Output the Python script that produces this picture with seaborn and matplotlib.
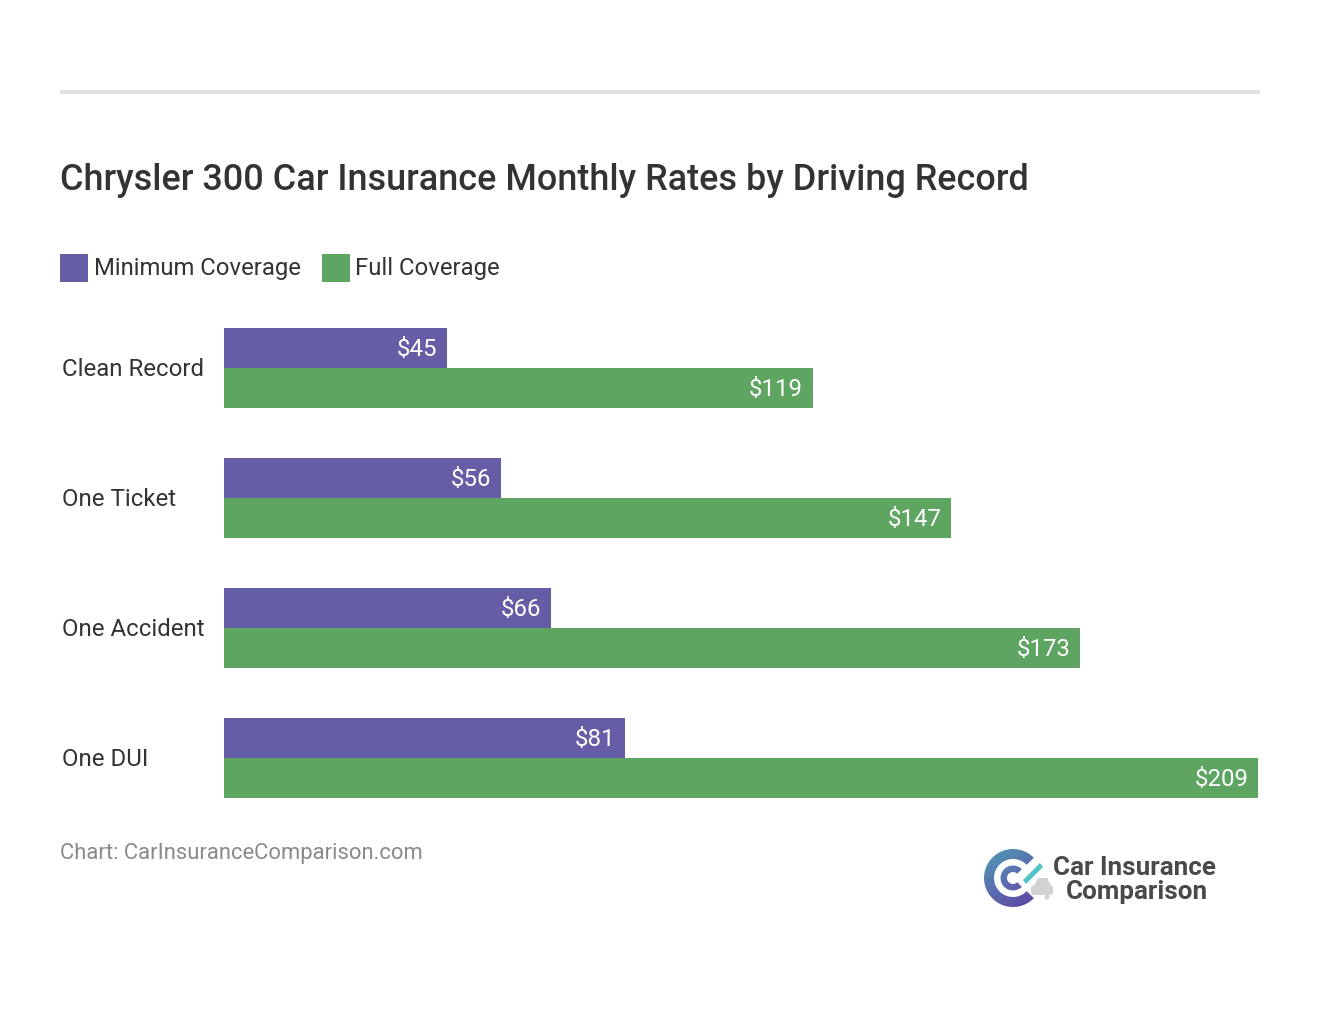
import matplotlib
matplotlib.use("Agg")
import matplotlib.pyplot as plt
import numpy as np
import pandas as pd
import seaborn as sns
from matplotlib.colors import LinearSegmentedColormap
from matplotlib.patches import Circle, FancyBboxPatch, Polygon, Rectangle, Wedge
from matplotlib.transforms import ScaledTranslation

records = ["Clean Record", "One Ticket", "One Accident", "One DUI"]
minimum_coverage = [45, 56, 66, 81]
full_coverage = [119, 147, 173, 209]
series_names = ["Minimum Coverage", "Full Coverage"]
series_colors = ["#655DA5", "#5EA562"]

W, H = 1320, 1010
PX = 72 / 100  # points per pixel at dpi 100

sns.set_theme(style="white")
plt.rcParams["font.family"] = ["Roboto", "DejaVu Sans"]

df = pd.DataFrame({
    "Record": records * 2,
    "Rate": minimum_coverage + full_coverage,
    "Coverage": [series_names[0]] * 4 + [series_names[1]] * 4,
})

fig = plt.figure(figsize=(W / 100, H / 100), dpi=100, facecolor="white")

# bars live in an axes placed on the pixel box of the reference
ax = fig.add_axes([224 / W, 1 - 823 / H, 1034 / W, 520 / H])
sns.barplot(data=df, y="Record", x="Rate", hue="Coverage", palette=series_colors,
            width=80 / 130, gap=0, saturation=1, legend=False, linewidth=0, ax=ax)
ax.set_xlim(0, 209)
ax.set_ylim(3.5, -0.5)
ax.set_xlabel("")
ax.set_ylabel("")
ax.set_xticks([])
sns.despine(ax=ax, left=True, bottom=True)
ax.tick_params(axis="y", length=0, pad=162 * PX, labelsize=24 * PX, labelcolor="#333333")
for label in ax.get_yticklabels():
    label.set_ha("left")
    label.set_transform(label.get_transform() + ScaledTranslation(0, 0.01, fig.dpi_scale_trans))

for container, values in zip(ax.containers, [minimum_coverage, full_coverage]):
    texts = ax.bar_label(container, labels=["\\$%d" % v for v in values], padding=-9 * PX,
                         color="white", fontsize=24 * PX)
    for t in texts:
        t.set_ha("right")
        t.xyann = (-9.5 * PX, -2 * PX)

# overlay in pixel coordinates for page furniture
page = fig.add_axes([0, 0, 1, 1], zorder=5)
page.set_xlim(0, W)
page.set_ylim(H, 0)
page.axis("off")
page.patch.set_alpha(0)

page.add_patch(Rectangle((60, 90), 1200, 4, color="#E0E0E0", lw=0))
page.text(60, 180, "Chrysler 300 Car Insurance Monthly Rates by Driving Record",
          fontsize=35.96 * PX, fontweight="medium", color="#333333", va="center", ha="left")

# legend
for x0, x_text, name, color in zip([60, 322], [94, 355], series_names, series_colors):
    page.add_patch(Rectangle((x0, 254), 28, 28, color=color, lw=0))
    page.text(x_text, 268, name, fontsize=23.9 * PX, color="#333333", va="center", ha="left")

page.text(60.5, 853, "Chart: CarInsuranceComparison.com", fontsize=22 * PX,
          color="#8A8A8A", va="center", ha="left")

# logo: gradient rings, teal tick, small car
cmap = LinearSegmentedColormap.from_list("logo", ["#4F9DB0", "#5B6DB0", "#5C3F9E"])
grad = np.linspace(0, 1, 64)[:, None] * 0.6 + np.linspace(0, 1, 64)[None, :] * 0.4
for r, w, a1, a2 in [(29, 10, 44, 316), (12.5, 6.5, 45, 315)]:
    ring = Wedge((1013, 878), r, a1, a2, width=w, transform=page.transData, lw=0, fc="none")
    page.add_patch(ring)
    img = page.imshow(grad, cmap=cmap, extent=(984, 1042, 907, 849), aspect="auto", zorder=2)
    img.set_clip_path(ring)
page.set_xlim(0, W)
page.set_ylim(H, 0)

page.add_patch(FancyBboxPatch((1031, 885), 22, 10, boxstyle="round,pad=0,rounding_size=3",
                              fc="#D2D2D2", lw=0, zorder=3))
page.add_patch(Polygon([(1034, 886), (1038, 878), (1047, 878), (1051, 886)], fc="#D2D2D2", lw=0, zorder=3))
page.add_patch(Circle((1047, 897), 2.5, fc="#D2D2D2", lw=0, zorder=3))
page.add_patch(Polygon([(1022, 880), (1040, 862), (1044, 867), (1026, 885)],
                       fc="#52C4C4", ec="white", lw=1, zorder=4))
page.text(1134.5, 868, "Car Insurance", fontsize=26 * PX, fontweight="bold", color="#4A4A4A",
          va="center", ha="center")
page.text(1137, 892, "Comparison", fontsize=26 * PX, fontweight="bold", color="#4A4A4A",
          va="center", ha="center")

fig.savefig("out.png", dpi=100, facecolor="white")
